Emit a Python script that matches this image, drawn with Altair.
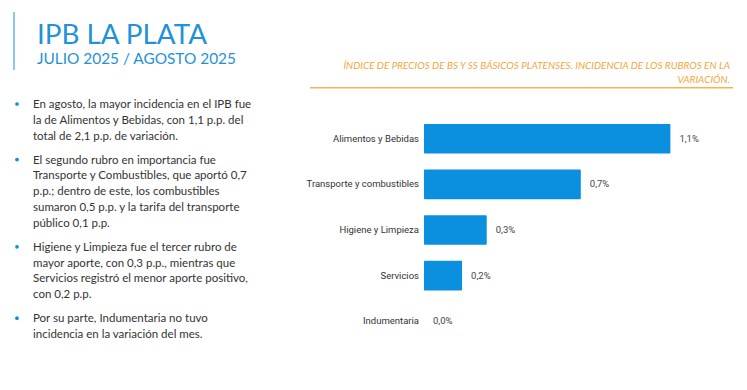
import altair as alt
import pandas as pd

# ---- data ----
categories = ["Alimentos y Bebidas", "Transporte y combustibles", "Higiene y Limpieza", "Servicios", "Indumentaria"]
values = [1.1, 0.7, 0.28, 0.17, 0.0]
value_labels = ["1,1%", "0,7%", "0,3%", "0,2%", "0,0%"]

title_text = "IPB LA PLATA"
subtitle_text = "JULIO 2025 / AGOSTO 2025"
chart_title_lines = [
    "ÍNDICE DE PRECIOS DE BS Y SS BÁSICOS PLATENSES. INCIDENCIA DE LOS RUBROS EN LA",
    "VARIACIÓN.",
]
bullet_1 = ["En agosto, la mayor incidencia en el IPB fue",
            "la de Alimentos y Bebidas, con 1,1 p.p. del",
            "total de 2,1 p.p. de variación."]
bullet_2 = ["El segundo rubro en importancia fue",
            "Transporte y Combustibles, que aportó 0,7",
            "p.p.; dentro de este, los combustibles",
            "sumaron 0,5 p.p. y la tarifa del transporte",
            "público 0,1 p.p."]
bullet_3 = ["Higiene y Limpieza fue el tercer rubro de",
            "mayor aporte, con 0,3 p.p., mientras que",
            "Servicios registró el menor aporte positivo,",
            "con 0,2 p.p."]
bullet_4 = ["Por su parte, Indumentaria no tuvo",
            "incidencia en la variación del mes."]

df = pd.DataFrame({"rubro": categories, "valor": values, "etiqueta": value_labels})
one = pd.DataFrame({"k": [0]})

BLUE = "#0a90de"
TITLE_BLUE = "#1f92d8"
ORANGE = "#f4a640"
TEXT = "#333333"
BODY_FONT = "Lato"

x_scale = alt.Scale(domain=[0, 1.25], range=[416, 696])
y_scale = alt.Scale(domain=categories, range=[108, 336], paddingInner=0.35, paddingOuter=0.175)

base = alt.Chart(df)
bars = base.mark_bar(color=BLUE, cornerRadius=1).encode(
    x=alt.X("valor:Q", scale=x_scale, axis=None),
    x2=alt.datum(0),
    y=alt.Y("rubro:N", scale=y_scale, axis=None, sort=categories),
)
val_text = base.mark_text(align="left", baseline="middle", dx=9, font="Roboto",
                          fontSize=9.5, color="#444444").encode(
    x=alt.X("valor:Q", scale=x_scale, axis=None),
    y=alt.Y("rubro:N", scale=y_scale, axis=None, sort=categories),
    text="etiqueta:N",
)
cat_text = base.mark_text(align="right", baseline="middle", font="Roboto",
                          fontSize=9.5, color="#333333").encode(
    x=alt.value(411),
    y=alt.Y("rubro:N", scale=y_scale, axis=None, sort=categories),
    text="rubro:N",
)

def txt(text, x, y, **kw):
    return alt.Chart(one).mark_text(text=text, **kw).encode(x=alt.value(x), y=alt.value(y))

vline = alt.Chart(one).mark_rule(color="#6ab4e4", strokeWidth=1.5).encode(
    x=alt.value(6), y=alt.value(4), y2=alt.value(62))
title = txt(title_text, 29, 35.7, align="left", baseline="alphabetic", font=BODY_FONT,
            fontSize=27.8, color=TITLE_BLUE)
subtitle = txt(subtitle_text, 29, 55.7, align="left", baseline="alphabetic", font=BODY_FONT,
               fontSize=15.4, color=TITLE_BLUE)
ctitle = txt(chart_title_lines, 722, 60.5, align="right", baseline="alphabetic", font=BODY_FONT,
             fontSize=10, fontStyle="italic", color=ORANGE, lineHeight=14)
oline = alt.Chart(one).mark_rule(color="#f7b350", strokeWidth=1.5).encode(
    x=alt.value(302), x2=alt.value(725), y=alt.value(79.7))

layers = [bars, val_text, cat_text, vline, title, subtitle, ctitle, oline]
for lines, yb in [(bullet_1, 100), (bullet_2, 155.6), (bullet_3, 242.8), (bullet_4, 314.2)]:
    layers.append(txt(lines, 25, yb, align="left", baseline="alphabetic", font=BODY_FONT,
                      fontSize=11.5, color=TEXT, lineHeight=15.8))
    layers.append(alt.Chart(one).mark_circle(color=BLUE, opacity=1, size=14).encode(
        x=alt.value(9), y=alt.value(yb - 4)))

chart = alt.layer(*layers).properties(
    width=731, height=374, autosize=alt.AutoSizeParams(type="none"), padding=0,
    background="white",
).configure_view(stroke=None)

chart.save("out.html", embed_options={"renderer": "svg", "actions": False})
